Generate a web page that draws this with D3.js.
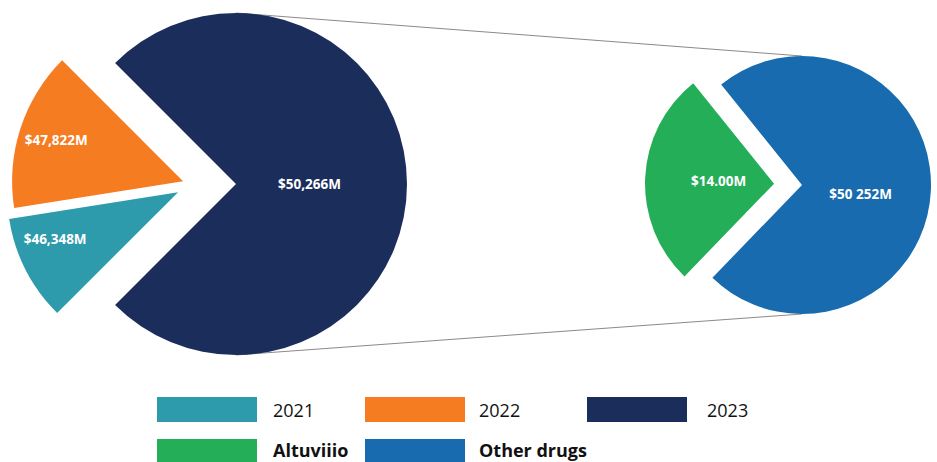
<!DOCTYPE html>
<html>
<head>
<meta charset="utf-8">
<script src="https://cdn.jsdelivr.net/npm/d3@7"></script>
<style>
  html, body { margin: 0; padding: 0; background: #ffffff; }
  svg { display: block; font-family: "Open Sans", "Noto Sans", sans-serif; }
</style>
</head>
<body>
<svg id="chart" width="937" height="462"></svg>
<script>
// Annual revenue ($M) by year, and the 2023 split by product
const yearLabels   = ["2021", "2022", "2023"];
const yearRevenue  = [46348, 47822, 50266];
const yearLabelText = ["$46,348M", "$47,822M", "$50,266M"];
const yearSweep    = [0.10, 0.15, 0.75];      // share of the circle each slice occupies

const drugLabels   = ["Altuviiio", "Other drugs"];
const drugRevenue  = [14.00, 50252];
const drugLabelText = ["$14.00M", "$50 252M"];
const drugSweep    = [0.27, 0.73];

const yearColors = ["#2e9bad", "#f57c21", "#1b2d5b"];
const drugColors = ["#24ae57", "#186bae"];

const deg = Math.PI / 180;

const svg = d3.select("#chart");

// ---- layout --------------------------------------------------------------
const leftPie  = { cx: 236, cy: 184, r: 171, start: 225 * deg };
const rightPie = { cx: 802, cy: 185, r: 129, start: 224 * deg };

// pulled-out slices: [distance, direction in degrees]
const leftExplode  = { "2021": [58.5, 262], "2022": [53, 273], "2023": [0, 0] };
const rightExplode = { "Altuviiio": [28, 272.7], "Other drugs": [0, 0] };

// label placement: [fraction of radius, direction in degrees]
const leftLabelPos  = { "2021": [0.77, 249], "2022": [0.78, 288], "2023": [0.43, 90] };
const rightLabelPos = { "Altuviiio": [0.43, 272.7], "Other drugs": [0.46, 99] };

function buildRows(labels, values, texts, sweep, colors) {
  return labels.map((l, i) => ({ label: l, value: values[i], text: texts[i], sweep: sweep[i], color: colors[i] }));
}

const yearRows = buildRows(yearLabels, yearRevenue, yearLabelText, yearSweep, yearColors);
const drugRows = buildRows(drugLabels, drugRevenue, drugLabelText, drugSweep, drugColors);

// ---- connector lines between the two pies -------------------------------
const connectors = svg.append("g").attr("class", "connectors");
[[0, 0], [Math.PI, Math.PI]].forEach(([a1, a2]) => {
  const p1 = d3.pointRadial(a1, leftPie.r);
  const p2 = d3.pointRadial(a2, rightPie.r);
  connectors.append("line")
    .attr("x1", leftPie.cx + p1[0]).attr("y1", leftPie.cy + p1[1])
    .attr("x2", rightPie.cx + p2[0]).attr("y2", rightPie.cy + p2[1])
    .attr("stroke", "#8a8a8a")
    .attr("stroke-width", 1);
});

// ---- pies ----------------------------------------------------------------
function drawPie(rows, cfg, explode, labelPos, fontSize) {
  const pie = d3.pie()
    .sort(null)
    .value(d => d.sweep)
    .startAngle(cfg.start)
    .endAngle(cfg.start + 2 * Math.PI);
  const arc = d3.arc().innerRadius(0).outerRadius(cfg.r);

  const g = svg.append("g").attr("transform", `translate(${cfg.cx},${cfg.cy})`);
  const slices = g.selectAll("g.slice")
    .data(pie(rows))
    .join("g")
    .attr("class", "slice")
    .attr("transform", d => {
      const [dist, dir] = explode[d.data.label];
      const [x, y] = d3.pointRadial(dir * deg, dist);
      return `translate(${x},${y})`;
    });

  slices.append("path")
    .attr("d", arc)
    .attr("fill", d => d.data.color);

  slices.append("text")
    .attr("transform", d => {
      const [f, dir] = labelPos[d.data.label];
      const [x, y] = d3.pointRadial(dir * deg, f * cfg.r);
      return `translate(${x},${y})`;
    })
    .attr("text-anchor", "middle")
    .attr("dy", "0.36em")
    .attr("fill", "#ffffff")
    .attr("font-weight", 700)
    .attr("font-size", fontSize)
    .text(d => d.data.text);
}

drawPie(yearRows, leftPie, leftExplode, leftLabelPos, 13.5);
drawPie(drugRows, rightPie, rightExplode, rightLabelPos, 13.5);

// ---- legend --------------------------------------------------------------
const legendRows = [
  { y: 397, baseline: 416.7, bold: false, items: yearRows },
  { y: 439, baseline: 456.5, bold: true,  items: drugRows }
];
const legendCols = [157, 365, 587];
const textCols   = [273, 479, 707];
const swatchW = 100, swatchH = 25;

const legend = svg.append("g").attr("class", "legend");
legendRows.forEach(row => {
  row.items.forEach((it, i) => {
    legend.append("rect")
      .attr("x", legendCols[i]).attr("y", row.y)
      .attr("width", swatchW).attr("height", swatchH)
      .attr("fill", it.color);
    legend.append("text")
      .attr("x", textCols[i]).attr("y", row.baseline)
      .attr("font-size", 18)
      .attr("font-weight", row.bold ? 700 : 400)
      .attr("fill", "#111111")
      .text(it.label);
  });
});
</script>
</body>
</html>
